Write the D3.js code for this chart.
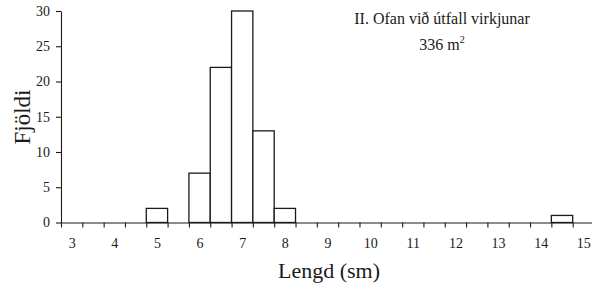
<!DOCTYPE html>
<html>
<head>
<meta charset="utf-8">
<script src="https://cdn.jsdelivr.net/npm/d3@7"></script>
<style>
  body { margin: 0; background: #fff; }
  svg { display: block; }
  text { font-family: "Liberation Serif", "Times New Roman", serif; fill: #1a1a1a; }
  .axis path, .axis line { stroke: #1a1a1a; stroke-width: 1.1; }
  .bar { fill: #fff; stroke: #1a1a1a; stroke-width: 1.3; }
</style>
</head>
<body>
<div id="chart"></div>
<script>
// bin centres (sm), counts per bin, and axis labels
const bins   = [3, 3.5, 4, 4.5, 5, 5.5, 6, 6.5, 7, 7.5, 8, 8.5, 9, 9.5, 10, 10.5, 11, 11.5, 12, 12.5, 13, 13.5, 14, 14.5, 15];
const counts = [0, 0,   0, 0,   2, 0,   7, 22,  30, 13,  2, 0,   0, 0,   0,  0,    0,  0,    0,  0,    0,  0,    0,  1,    0];
const xLabels = [3, 4, 5, 6, 7, 8, 9, 10, 11, 12, 13, 14, 15];
const yTicks  = [0, 5, 10, 15, 20, 25, 30];

const titleLine = 'II. Ofan við útfall virkjunar';
const areaText = '336 m';

const width = 592;
const height = 291;
const binWidth = 0.5;

let svg = d3.select('#chart').append('svg')
  .attr('width', width)
  .attr('height', height)

let x = d3.scaleLinear()
  .domain([bins[0] - binWidth / 2, bins[bins.length - 1] + binWidth / 2])
  .range([61, 594])

let y = d3.scaleLinear()
  .domain([0, 30])
  .range([222.5, 11])

let data = bins.map((b, i) => ({bin: b, n: counts[i]}));

// bars
svg.selectAll('rect.bar')
  .data(data.filter(d => d.n > 0))
  .enter().append('rect')
    .classed('bar', true)
    .attr('x', d => x(d.bin - binWidth / 2))
    .attr('width', d => x(d.bin + binWidth / 2) - x(d.bin - binWidth / 2))
    .attr('y', d => y(d.n))
    .attr('height', d => y(0) - y(d.n))

let styleTicks = g => g
  .attr('font-family', '"Liberation Serif", serif')
  .attr('font-size', 14)
  .call(g => g.selectAll('text').attr('fill', '#1a1a1a'))

// x axis: tick marks on bin edges, labels on whole numbers
let edges = bins.map(b => b - binWidth / 2);

svg.append('g')
  .classed('axis', true)
  .attr('transform', `translate(0, ${y(0)})`)
  .call(d3.axisBottom(x).tickValues(edges).tickSize(5).tickFormat('').tickSizeOuter(0))

svg.append('g')
  .classed('axis', true)
  .attr('transform', `translate(0, ${y(0)})`)
  .call(d3.axisBottom(x).tickValues(xLabels).tickSize(0).tickPadding(16).tickFormat(d3.format('d')))
  .call(g => g.select('.domain').remove())
  .call(styleTicks)

// y axis
svg.append('g')
  .classed('axis', true)
  .attr('transform', `translate(${x.range()[0]}, 0)`)
  .call(d3.axisLeft(y).tickValues(yTicks).tickSize(5).tickPadding(6).tickSizeOuter(0))
  .call(styleTicks)

// axis titles
svg.append('text')
  .attr('x', 329)
  .attr('y', 278)
  .attr('text-anchor', 'middle')
  .style('font-size', '22px')
  .text('Lengd (sm)')

svg.append('text')
  .attr('transform', 'translate(30, 117) rotate(-90)')
  .attr('text-anchor', 'middle')
  .style('font-size', '23px')
  .text('Fjöldi')

// panel title
svg.append('text')
  .attr('x', 442)
  .attr('y', 24)
  .attr('text-anchor', 'middle')
  .style('font-size', '16px')
  .text(titleLine)

let area = svg.append('text')
  .attr('x', 442)
  .attr('y', 50)
  .attr('text-anchor', 'middle')
  .style('font-size', '16px')

area.append('tspan').text(areaText)
area.append('tspan')
  .attr('dy', -7)
  .style('font-size', '10px')
  .text('2')
</script>
</body>
</html>
